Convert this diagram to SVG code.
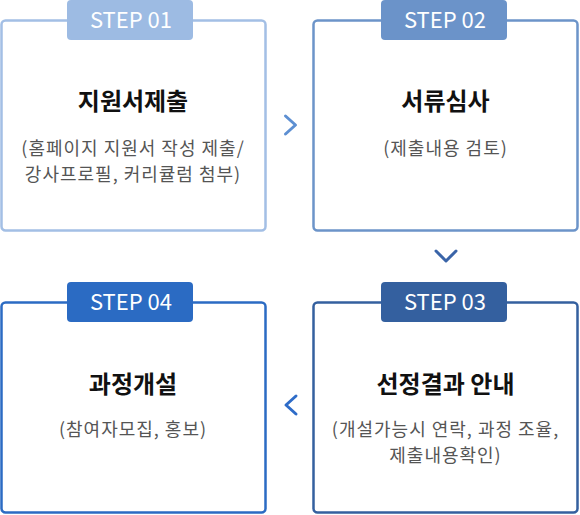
<svg xmlns="http://www.w3.org/2000/svg" width="580" height="515" viewBox="0 0 580 515">
<style>
.box{fill:#fff;stroke-width:2.5}
.tabt{font-family:"Noto Sans CJK KR",sans-serif;font-size:22px;fill:#fff;text-anchor:middle}
.title{font-family:"Noto Sans CJK KR",sans-serif;font-size:24px;font-weight:bold;fill:#111;text-anchor:middle}
.sub{font-family:"Noto Sans CJK KR",sans-serif;font-size:18px;letter-spacing:1px;fill:#555;text-anchor:middle}
.arr{fill:none;stroke-width:3;stroke-linecap:round;stroke-linejoin:round}
</style>
<rect width="580" height="515" fill="#fff"/>
<g id="step1">
<rect class="box" x="1.5" y="20.5" width="264" height="210" rx="4" stroke="#a3bfe5"/>
<rect x="67" y="0" width="126" height="40" rx="4" fill="#9dbbe3"/>
<text class="tabt" x="131" y="28">STEP 01</text>
<text class="title" x="133" y="110">지원서제출</text>
<text class="sub"><tspan x="133" y="154.5">(홈페이지 지원서 작성 제출/</tspan><tspan x="133" y="181">강사프로필, 커리큘럼 첨부)</tspan></text>
</g>
<g id="step2">
<rect class="box" x="313.5" y="20.5" width="264" height="210" rx="4" stroke="#6c94c9"/>
<rect x="381" y="0" width="126" height="40" rx="4" fill="#6b93c9"/>
<text class="tabt" x="445" y="28">STEP 02</text>
<text class="title" x="445.5" y="110">서류심사</text>
<text class="sub" x="445.5" y="155">(제출내용 검토)</text>
</g>
<g id="step3">
<rect class="box" x="313.5" y="302.5" width="264" height="210" rx="4" stroke="#34609f"/>
<rect x="381" y="282" width="126" height="40" rx="4" fill="#34609f"/>
<text class="tabt" x="445" y="310">STEP 03</text>
<text class="title" x="445.5" y="393">선정결과 안내</text>
<text class="sub"><tspan x="445.5" y="435.5">(개설가능시 연락, 과정 조율,</tspan><tspan x="445.5" y="462">제출내용확인)</tspan></text>
</g>
<g id="step4">
<rect class="box" x="1.5" y="302.5" width="264" height="210" rx="4" stroke="#2b6bc3"/>
<rect x="67" y="282" width="126" height="40" rx="4" fill="#2b6bc3"/>
<text class="tabt" x="131" y="310">STEP 04</text>
<text class="title" x="133" y="393">과정개설</text>
<text class="sub" x="133" y="436">(참여자모집, 홍보)</text>
</g>
<g id="connectors">
<polyline class="arr" points="285.5,116 295.5,125 285.5,134" stroke="#5d8fd2"/>
<polyline class="arr" points="436,251 446,261 456,251" stroke="#3a64a8"/>
<polyline class="arr" points="296,396 286,405 296,414" stroke="#2e6cc8"/>
</g>
</svg>
